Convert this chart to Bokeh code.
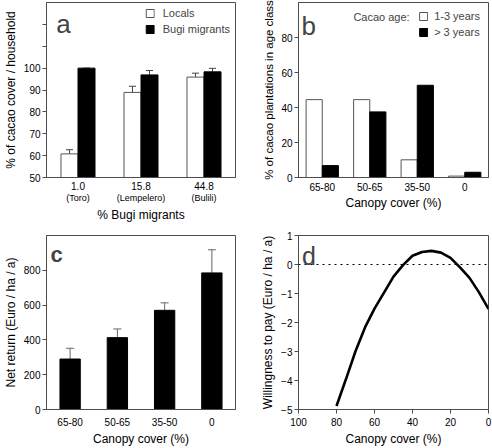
from bokeh.plotting import figure
from bokeh.models import (Range1d, FactorRange, LinearAxis, FixedTicker, Whisker,
                          TeeHead, Legend, LegendItem, Label, Span, ColumnDataSource)
from bokeh.transform import dodge
from bokeh.layouts import column, row
from bokeh.embed import file_html
from bokeh.resources import INLINE

FONT = "Liberation Sans"
FRAME = "#4d4d4d"

# ---------- data ----------
# panel a
a_cats = ["1.0", "15.8", "44.8"]
a_sites = ["(Toro)", "(Lempelero)", "(Bulili)"]
a_locals = [60.8, 88.9, 95.9]
a_locals_err = [1.9, 2.8, 1.8]
a_bugi = [100.0, 96.9, 98.3]
a_bugi_err = [0.0, 2.0, 1.6]
a_yticks = [50, 60, 70, 80, 90, 100, 110, 120]

# panel b
b_cats = ["65-80", "50-65", "35-50", "0"]
b_young = [44.5, 44.5, 10.1, 0.8]
b_old = [6.8, 37.5, 52.7, 3.0]
b_yticks = [0, 20, 40, 60, 80]

# panel c
c_cats = ["65-80", "50-65", "35-50", "0"]
c_return = [290, 413, 570, 785]
c_err = [62, 50, 43, 133]
c_yticks = [0, 200, 400, 600, 800]

# panel d
d_cover = [80, 75, 70, 65, 60, 55, 50, 45, 40, 35, 30, 25, 20, 15, 10, 5, 0]
d_wtp = [-4.88, -3.95, -2.99, -2.17, -1.52, -0.97, -0.42, -0.02, 0.30, 0.43, 0.47,
         0.41, 0.23, -0.10, -0.46, -0.96, -1.53]
d_xticks = [100, 80, 60, 40, 20, 0]
d_yticks = [-5, -4, -3, -2, -1, 0, 1]


def style(p):
    p.outline_line_color = FRAME
    p.outline_line_width = 1
    p.outline_line_alpha = 1
    p.grid.visible = False
    p.background_fill_color = "white"
    p.border_fill_color = "white"
    for ax in p.axis:
        ax.axis_line_color = FRAME
        ax.major_tick_line_color = FRAME
        ax.minor_tick_line_color = None
        ax.major_tick_out = 4
        ax.major_tick_in = 0
        ax.major_label_text_font = FONT
        ax.major_label_text_font_size = "10px"
        ax.major_label_text_color = "black"
        ax.axis_label_text_font = FONT
        ax.axis_label_text_font_size = "12px"
        ax.axis_label_text_font_style = "normal"
        ax.axis_label_text_color = "black"
        ax.major_label_standoff = 2
        ax.axis_label_standoff = 3


def legend_style(lg, standoff=8):
    lg.border_line_color = None
    lg.background_fill_alpha = 0
    lg.padding = 0
    lg.spacing = 4
    lg.glyph_width = 10
    lg.glyph_height = 10
    lg.label_height = 10
    lg.label_standoff = standoff
    lg.label_text_font = FONT
    lg.label_text_font_size = "11px"


# ---------- panel a ----------
a_pos = [i + 0.5 for i in range(len(a_cats))]
pa = figure(width=246, height=224, x_range=Range1d(0, len(a_cats)), y_range=Range1d(50, 130),
            output_backend="svg", toolbar_location=None,
            min_border_left=42, min_border_right=11, min_border_top=2, min_border_bottom=47)
src_a = ColumnDataSource(dict(pos=a_pos, loc=a_locals,
                              loc_hi=[v + e for v, e in zip(a_locals, a_locals_err)],
                              bugi=a_bugi,
                              bugi_hi=[v + e for v, e in zip(a_bugi, a_bugi_err)]))
ra1 = pa.vbar(x=dodge("pos", -0.135), top="loc", bottom=50, width=0.27,
              fill_color="white", line_color="#555555", source=src_a)
ra2 = pa.vbar(x=dodge("pos", 0.135), top="bugi", bottom=50, width=0.27,
              fill_color="black", line_color="black", source=src_a)
pa.add_layout(Whisker(base=dodge("pos", -0.135), lower="loc", upper="loc_hi",
                      source=src_a, line_color="#444444",
                      upper_head=TeeHead(size=7, line_color="#444444"), lower_head=None))
pa.add_layout(Whisker(base=dodge("pos", 0.135), lower="bugi", upper="bugi_hi",
                      source=src_a, line_color="#444444",
                      upper_head=TeeHead(size=7, line_color="#444444"), lower_head=None))
pa.yaxis.ticker = FixedTicker(ticks=a_yticks)
pa.yaxis.major_label_overrides = {110: "", 120: ""}
pa.yaxis.axis_label = "% of cacao cover / household"
pa.xaxis.ticker = FixedTicker(ticks=a_pos)
pa.xaxis.major_label_overrides = dict(zip(a_pos, a_cats))
ax2 = LinearAxis(ticker=FixedTicker(ticks=a_pos),
                 major_label_overrides=dict(zip(a_pos, a_sites)))
pa.add_layout(ax2, "below")
style(pa)
pa.xaxis[0].major_tick_line_color = None
pa.xaxis[0].major_tick_out = 0
pa.xaxis[0].major_label_standoff = 4
ax2.major_tick_line_color = None
ax2.axis_line_color = None
ax2.major_label_text_font_size = "9px"
ax2.major_label_standoff = 0
ax2.major_tick_out = 0
ax2.axis_label = "% Bugi migrants"
ax2.axis_label_standoff = 2
lga = Legend(items=[LegendItem(label="Locals", renderers=[ra1]),
                    LegendItem(label="Bugi migrants", renderers=[ra2])],
             location="top_right", margin=5)
legend_style(lga)
pa.add_layout(lga)
pa.add_layout(Label(x=0.155, y=120.4, text="a", text_font=FONT, text_font_size="26px",
                    text_baseline="alphabetic"))

# ---------- panel b ----------
pb = figure(width=246, height=224, x_range=FactorRange(*b_cats), y_range=Range1d(0, 100),
            output_backend="svg", toolbar_location=None,
            min_border_left=52, min_border_right=4, min_border_top=2, min_border_bottom=47)
src_b = ColumnDataSource(dict(cat=b_cats, young=b_young, old=b_old))
rb1 = pb.vbar(x=dodge("cat", -0.17, range=pb.x_range), top="young", bottom=0, width=0.34,
              fill_color="white", line_color="#555555", source=src_b)
rb2 = pb.vbar(x=dodge("cat", 0.17, range=pb.x_range), top="old", bottom=0, width=0.34,
              fill_color="black", line_color="black", source=src_b)
pb.yaxis.ticker = FixedTicker(ticks=b_yticks)
pb.yaxis.axis_label = "% of cacao plantations in age class"
pb.xaxis.axis_label = "Canopy cover (%)"
style(pb)
pb.yaxis.axis_label_text_font_size = "11.5px"
pb.xaxis.major_tick_line_color = None
pb.xaxis.major_tick_out = 0
pb.xaxis.major_label_standoff = 5
pb.xaxis.axis_label_standoff = 2
lgb = Legend(items=[LegendItem(label="1-3 years", renderers=[rb1]),
                    LegendItem(label="> 3 years", renderers=[rb2])],
             location="top_right", margin=8)
legend_style(lgb, standoff=6)
pb.add_layout(lgb)
pb.add_layout(Label(x=2.34, y=91.7, text="Cacao age:", text_font=FONT, text_font_size="11px",
                    text_align="right", text_baseline="middle"))
pb.add_layout(Label(x=0.063, y=86.3, text="b", text_font=FONT, text_font_size="26px",
                    text_baseline="alphabetic"))

# ---------- panel c ----------
pc = figure(width=246, height=224, x_range=FactorRange(*c_cats), y_range=Range1d(0, 1000),
            output_backend="svg", toolbar_location=None,
            min_border_left=42, min_border_right=11, min_border_top=11, min_border_bottom=37)
src_c = ColumnDataSource(dict(cat=c_cats, val=c_return,
                              hi=[v + e for v, e in zip(c_return, c_err)]))
pc.vbar(x="cat", top="val", bottom=0, width=0.43, fill_color="black", line_color="black",
        source=src_c)
pc.add_layout(Whisker(base="cat", lower="val", upper="hi", source=src_c, line_color="#666666",
                      upper_head=TeeHead(size=8, line_color="#666666"), lower_head=None))
pc.yaxis.ticker = FixedTicker(ticks=c_yticks)
pc.yaxis.axis_label = "Net return (Euro / ha / a)"
pc.xaxis.axis_label = "Canopy cover (%)"
style(pc)
pc.xaxis.major_tick_line_color = None
pc.xaxis.major_tick_out = 0
pc.xaxis.major_label_standoff = 8
pc.xaxis.axis_label_standoff = 3
pc.add_layout(Label(x=0.083, y=892, text="c", text_font=FONT, text_font_size="22px",
                    text_font_style="bold", text_baseline="alphabetic"))

# ---------- panel d ----------
pd_ = figure(width=246, height=224, x_range=Range1d(100, 0), y_range=Range1d(-5, 1),
             output_backend="svg", toolbar_location=None,
             min_border_left=52, min_border_right=4, min_border_top=11, min_border_bottom=37)
pd_.add_layout(Span(location=0, dimension="width", line_color="black", line_width=1,
                    line_dash="dotted"))
pd_.line(x=d_cover, y=d_wtp, line_color="black", line_width=2.6)
pd_.xaxis.ticker = FixedTicker(ticks=d_xticks)
pd_.yaxis.ticker = FixedTicker(ticks=d_yticks)
pd_.yaxis.axis_label = "Willingness to pay (Euro / ha / a)"
pd_.xaxis.axis_label = "Canopy cover (%)"
style(pd_)
pd_.xaxis.major_label_standoff = 4
pd_.xaxis.axis_label_standoff = 3
pd_.add_layout(Label(x=98.1, y=0.28, text="d", text_font=FONT, text_font_size="25px",
                     text_baseline="alphabetic"))

layout = column(row(pa, pb), row(pc, pd_))
open("out.html", "w").write(file_html(layout, INLINE))
